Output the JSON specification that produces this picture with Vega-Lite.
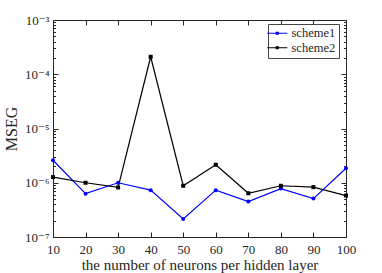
{
  "$schema": "https://vega.github.io/schema/vega-lite/v6.json",
  "width": 293,
  "height": 217,
  "autosize": "none",
  "padding": {"left": 53, "top": 20, "right": 36, "bottom": 36},
  "background": "white",
  "data": {
    "values": [
      {"neurons": 10, "mse": 2.6e-6, "series": "scheme1"},
      {"neurons": 20, "mse": 6.3e-7, "series": "scheme1"},
      {"neurons": 30, "mse": 1.0e-6, "series": "scheme1"},
      {"neurons": 40, "mse": 7.3e-7, "series": "scheme1"},
      {"neurons": 50, "mse": 2.15e-7, "series": "scheme1"},
      {"neurons": 60, "mse": 7.3e-7, "series": "scheme1"},
      {"neurons": 70, "mse": 4.5e-7, "series": "scheme1"},
      {"neurons": 80, "mse": 7.8e-7, "series": "scheme1"},
      {"neurons": 90, "mse": 5.1e-7, "series": "scheme1"},
      {"neurons": 100, "mse": 1.85e-6, "series": "scheme1"},
      {"neurons": 10, "mse": 1.27e-6, "series": "scheme2"},
      {"neurons": 20, "mse": 1.0e-6, "series": "scheme2"},
      {"neurons": 30, "mse": 8.2e-7, "series": "scheme2"},
      {"neurons": 40, "mse": 2.1e-4, "series": "scheme2"},
      {"neurons": 50, "mse": 8.8e-7, "series": "scheme2"},
      {"neurons": 60, "mse": 2.15e-6, "series": "scheme2"},
      {"neurons": 70, "mse": 6.4e-7, "series": "scheme2"},
      {"neurons": 80, "mse": 8.8e-7, "series": "scheme2"},
      {"neurons": 90, "mse": 8.3e-7, "series": "scheme2"},
      {"neurons": 100, "mse": 5.8e-7, "series": "scheme2"}
    ]
  },
  "config": {
    "font": "Liberation Serif, DejaVu Serif, serif",
    "view": {"stroke": null},
    "axis": {
      "grid": false,
      "domainColor": "#262626",
      "tickColor": "#262626",
      "labelColor": "#262626",
      "titleColor": "#262626",
      "labelFont": "Liberation Serif, DejaVu Serif, serif",
      "titleFont": "Liberation Serif, DejaVu Serif, serif",
      "labelFontSize": 13,
      "titleFontSize": 15,
      "titleFontWeight": "normal",
      "labelFlush": false,
      "domainWidth": 1,
      "tickWidth": 1
    },
    "legend": {
      "labelFont": "Liberation Serif, DejaVu Serif, serif",
      "labelFontSize": 12.5,
      "labelColor": "#262626",
      "strokeColor": "#444444",
      "fillColor": "white",
      "padding": 3,
      "rowPadding": 1.5,
      "symbolType": "M-2,0H2M-0.2,-0.2H0.2V0.2H-0.2Z",
      "symbolSize": 100,
      "symbolStrokeWidth": 1.2,
      "labelOffset": 8
    }
  },
  "layer": [
    {
      "mark": {"type": "line", "strokeWidth": 1.2},
      "encoding": {
        "x": {
          "field": "neurons",
          "type": "quantitative",
          "scale": {"domain": [10, 100], "nice": false},
          "axis": {
            "orient": "bottom",
            "values": [10, 20, 30, 40, 50, 60, 70, 80, 90, 100],
            "tickSize": -5,
            "labelPadding": 11,
            "title": "the number of neurons per hidden layer",
            "titlePadding": 1
          }
        },
        "y": {
          "field": "mse",
          "type": "quantitative",
          "scale": {"type": "log", "domain": [1e-7, 1e-3], "nice": false},
          "axis": {
            "orient": "left",
            "values": [1e-7, 2e-7, 3e-7, 4e-7, 5e-7, 6e-7, 7e-7, 8e-7, 9e-7, 1e-6, 2e-6, 3e-6, 4e-6, 5e-6, 6e-6, 7e-6, 8e-6, 9e-6, 1e-5, 2e-5, 3e-5, 4e-5, 5e-5, 6e-5, 7e-5, 8e-5, 9e-5, 1e-4, 2e-4, 3e-4, 4e-4, 5e-4, 6e-4, 7e-4, 8e-4, 9e-4, 1e-3],
            "labelExpr": "abs(log(datum.value)/LN10 - round(log(datum.value)/LN10)) < 0.001 ? '10' + ['⁻⁷','⁻⁶','⁻⁵','⁻⁴','⁻³'][round(log(datum.value)/LN10)+7] : ''",
            "tickSize": {"condition": {"test": "abs(log(datum.value)/LN10 - round(log(datum.value)/LN10)) < 0.001", "value": -5}, "value": -2.5},
            "labelPadding": 9,
            "title": "MSEG",
            "titleFontSize": 16,
            "titlePadding": 5
          }
        },
        "color": {
          "field": "series",
          "type": "nominal",
          "scale": {"domain": ["scheme1", "scheme2"], "range": ["#0000ff", "#000000"]},
          "legend": {"title": null, "orient": "none", "legendX": 215, "legendY": 4}
        }
      }
    },
    {
      "mark": {"type": "point", "filled": true, "size": 16, "opacity": 1},
      "encoding": {
        "x": {
          "field": "neurons",
          "type": "quantitative",
          "axis": {
            "orient": "top",
            "values": [10, 20, 30, 40, 50, 60, 70, 80, 90, 100],
            "tickSize": -5,
            "labels": false,
            "title": null
          }
        },
        "y": {
          "field": "mse",
          "type": "quantitative",
          "axis": {
            "orient": "right",
            "values": [1e-7, 2e-7, 3e-7, 4e-7, 5e-7, 6e-7, 7e-7, 8e-7, 9e-7, 1e-6, 2e-6, 3e-6, 4e-6, 5e-6, 6e-6, 7e-6, 8e-6, 9e-6, 1e-5, 2e-5, 3e-5, 4e-5, 5e-5, 6e-5, 7e-5, 8e-5, 9e-5, 1e-4, 2e-4, 3e-4, 4e-4, 5e-4, 6e-4, 7e-4, 8e-4, 9e-4, 1e-3],
            "tickSize": {"condition": {"test": "abs(log(datum.value)/LN10 - round(log(datum.value)/LN10)) < 0.001", "value": -5}, "value": -2.5},
            "labels": false,
            "title": null
          }
        },
        "color": {"field": "series", "type": "nominal"},
        "shape": {"condition": {"test": "datum.series === 'scheme1'", "value": "circle"}, "value": "square"}
      }
    }
  ],
  "resolve": {"axis": {"x": "independent", "y": "independent"}}
}
